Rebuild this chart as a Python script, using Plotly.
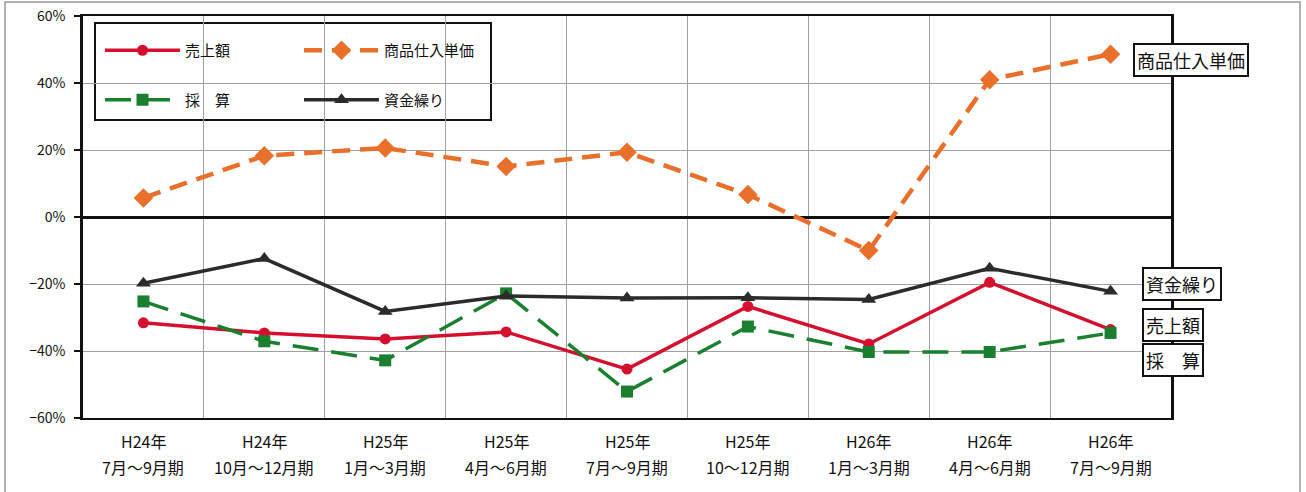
import plotly.graph_objects as go

# 調査期間（四半期）：年と月の2段表記
years = ["H24年", "H24年", "H25年", "H25年", "H25年", "H25年", "H26年", "H26年", "H26年"]
months = ["7月～9月期", "10月～12月期", "1月～3月期", "4月～6月期", "7月～9月期",
          "10～12月期", "1月～3月期", "4月～6月期", "7月～9月期"]
periods = [f"{y} {m}" for y, m in zip(years, months)]

# DI値（%）
sales = [-31.6, -34.6, -36.4, -34.3, -45.4, -26.7, -37.9, -19.5, -33.6]
purchase_price = [5.7, 18.3, 20.6, 15.1, 19.3, 6.7, -10.0, 41.0, 48.6]
profit = [-25.2, -37.1, -42.8, -22.8, -52.1, -32.7, -40.3, -40.3, -34.6]
cash_flow = [-19.8, -12.4, -28.2, -23.6, -24.2, -24.1, -24.6, -15.3, -22.2]

# 右側ラベル（表示位置の値, %）
side_labels = ["商品仕入単価", "資金繰り", "売上額", "採　算"]
side_label_y = [46.8, -20.0, -32.2, -42.8]

JP_FONT = "Noto Sans CJK JP"

fig = go.Figure()

def pct(v):
    return [x / 100 for x in v]

fig.add_trace(go.Scatter(
    x=periods, y=pct(sales), name="売上額", mode="lines+markers",
    line=dict(color="#d5102e", width=3.5),
    marker=dict(symbol="circle", size=11, color="#d5102e"),
    legend="legend", legendgroup="a",
))
fig.add_trace(go.Scatter(
    x=periods, y=pct(purchase_price), name="商品仕入単価", mode="lines+markers",
    line=dict(color="#e8702a", width=4.5, dash="18px,10px"),
    marker=dict(symbol="diamond", size=15, color="#e8702a"),
    legend="legend2", legendgroup="b",
))
fig.add_trace(go.Scatter(
    x=periods, y=pct(profit), name="採　算", mode="lines+markers",
    line=dict(color="#1a8030", width=3.5, dash="26px,13px"),
    marker=dict(symbol="square", size=12, color="#1a8030"),
    legend="legend", legendgroup="c",
))
fig.add_trace(go.Scatter(
    x=periods, y=pct(cash_flow), name="資金繰り", mode="lines+markers",
    line=dict(color="#2b2b2b", width=3.5),
    marker=dict(symbol="triangle-up", size=13, color="#2b2b2b"),
    legend="legend2", legendgroup="d",
))

# 系列名ラベル（右端）
for text, yv in zip(side_labels, side_label_y):
    wide = text == "商品仕入単価"
    fig.add_annotation(
        x=1.0, xref="paper", xshift=-38 if wide else -29,
        y=yv / 100, yref="y",
        text=text, showarrow=False, xanchor="left", yanchor="middle",
        font=dict(family=JP_FONT, size=18, color="#111"),
        bordercolor="#111", borderwidth=2, borderpad=2, bgcolor="white",
    )

# 横軸ラベル（年／月の2段）
for cat, y_txt, m_txt in zip(periods, years, months):
    fig.add_annotation(x=cat, xref="x", y=0, yref="paper", yshift=-23,
                       text=y_txt, showarrow=False, yanchor="middle",
                       font=dict(family=JP_FONT, size=16, color="#111"))
    fig.add_annotation(x=cat, xref="x", y=0, yref="paper", yshift=-49,
                       text=m_txt, showarrow=False, yanchor="middle",
                       font=dict(family=JP_FONT, size=16, color="#111"))

L, R, T, B = 83, 135, 16, 74
W, H = 1306, 492
pw, ph = W - L - R, H - T - B

def px_x(p):
    return (p - L) / pw

def px_y(p):
    return (H - B - p) / ph

# 凡例の枠と外枠
fig.add_shape(type="rect", xref="paper", yref="paper",
              x0=px_x(95), x1=px_x(491), y0=px_y(120), y1=px_y(23),
              line=dict(color="#111", width=2), fillcolor="white", layer="below")
fig.add_shape(type="rect", xref="paper", yref="paper",
              x0=px_x(5), x1=px_x(1300), y0=px_y(520), y1=px_y(2),
              line=dict(color="#999", width=1.5))

legend_common = dict(
    orientation="v", traceorder="grouped", tracegroupgap=27,
    font=dict(family=JP_FONT, size=15, color="#111"),
    bgcolor="rgba(0,0,0,0)", borderwidth=0, itemwidth=75,
    xanchor="left", yanchor="top",
)

fig.update_layout(
    width=W, height=H,
    margin=dict(l=L, r=R, t=T, b=B, autoexpand=False),
    paper_bgcolor="white", plot_bgcolor="white",
    font=dict(family=JP_FONT, color="#111"),
    showlegend=True,
    legend=dict(x=px_x(100), y=px_y(34), **legend_common),
    legend2=dict(x=px_x(299), y=px_y(34), **legend_common),
    xaxis=dict(
        type="category", tickson="boundaries", range=[-0.5, 8.5],
        showgrid=True, gridcolor="#a0a0a0", gridwidth=1,
        showline=True, linecolor="#111", linewidth=2, mirror=True,
        ticks="", showticklabels=False, automargin=False,
    ),
    yaxis=dict(
        range=[-0.6, 0.6], dtick=0.2, tickformat=".0%",
        showgrid=True, gridcolor="#a0a0a0", gridwidth=1,
        zeroline=True, zerolinecolor="#111", zerolinewidth=3,
        showline=True, linecolor="#111", linewidth=2.5, mirror=True,
        ticks="outside", ticklen=6, tickwidth=2, tickcolor="#111",
        tickfont=dict(family=JP_FONT, size=14, color="#111"),
        ticklabelstandoff=6, automargin=False,
    ),
)

fig.write_html("out.html")
